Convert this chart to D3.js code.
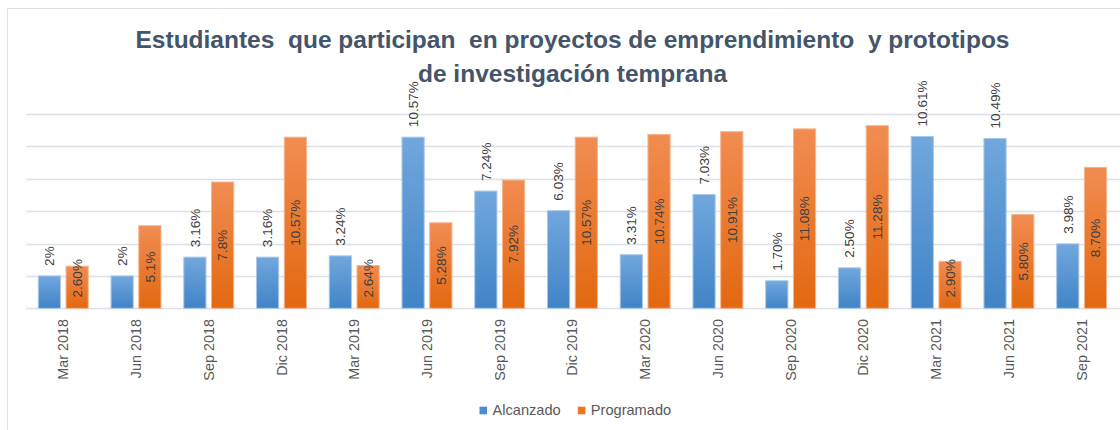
<!DOCTYPE html>
<html>
<head>
<meta charset="utf-8">
<script src="https://cdn.jsdelivr.net/npm/d3@7"></script>
<style>
  body { margin: 0; background: #fff; }
  svg { display: block; font-family: "Liberation Sans", Arial, sans-serif; }
</style>
</head>
<body>
<div class="chart"></div>
<script>
//chart data
const categories = ['Mar 2018', 'Jun 2018', 'Sep 2018', 'Dic 2018', 'Mar 2019', 'Jun 2019', 'Sep 2019', 'Dic 2019',
  'Mar 2020', 'Jun 2020', 'Sep 2020', 'Dic 2020', 'Mar 2021', 'Jun 2021', 'Sep 2021'];
const series = ['Alcanzado', 'Programado'];
const alcanzado = [2, 2, 3.16, 3.16, 3.24, 10.57, 7.24, 6.03, 3.31, 7.03, 1.70, 2.50, 10.61, 10.49, 3.98];
const programado = [2.60, 5.1, 7.8, 10.57, 2.64, 5.28, 7.92, 10.57, 10.74, 10.91, 11.08, 11.28, 2.90, 5.80, 8.70];
//the labels are typed the way the source shows them (some have 1 decimal, some 2)
const alcanzadoLabels = ['2%', '2%', '3.16%', '3.16%', '3.24%', '10.57%', '7.24%', '6.03%', '3.31%', '7.03%',
  '1.70%', '2.50%', '10.61%', '10.49%', '3.98%'];
const programadoLabels = ['2.60%', '5.1%', '7.8%', '10.57%', '2.64%', '5.28%', '7.92%', '10.57%', '10.74%',
  '10.91%', '11.08%', '11.28%', '2.90%', '5.80%', '8.70%'];
const yTicks = [0, 2, 4, 6, 8, 10, 12];
const titleLines = ['Estudiantes  que participan  en proyectos de emprendimiento  y prototipos',
  'de investigación temprana'];

const width = 1120;
const height = 430;
const plot = {left: 26.9, right: 1118, top: 114, bottom: 308.3};

const svg = d3.select('.chart').append('svg')
  .attr('width', width)
  .attr('height', height);

//gradients for the bars (excel style fill)
const defs = svg.append('defs');
const grads = [
  {id: 'gradBlue', top: '#71a7dd', bottom: '#4084c7'},
  {id: 'gradOrange', top: '#f18c52', bottom: '#e3680f'}
];
grads.forEach(g => {
  const lg = defs.append('linearGradient')
    .attr('id', g.id)
    .attr('x1', 0).attr('y1', 0).attr('x2', 0).attr('y2', 1);
  lg.append('stop').attr('offset', '0%').attr('stop-color', g.top);
  lg.append('stop').attr('offset', '100%').attr('stop-color', g.bottom);
});

//chart area border
svg.append('rect')
  .attr('x', 7.5)
  .attr('y', 8.5)
  .attr('width', 1300)
  .attr('height', 600)
  .attr('fill', 'none')
  .attr('stroke', '#dfe2e8');

const x = d3.scaleBand()
  .domain(categories)
  .range([plot.left, plot.right])
  .padding(0);

//inner scale for the two bars in each group
const xInner = d3.scaleBand()
  .domain(series)
  .range([11.4, x.bandwidth() - 11.4])
  .paddingInner(0.2);

const y = d3.scaleLinear()
  .domain([0, 12])
  .range([plot.bottom, plot.top]);

//horizontal gridlines
svg.append('g')
  .selectAll('line')
  .data(yTicks)
  .join('line')
  .attr('x1', plot.left - 1)
  .attr('x2', width)
  .attr('y1', d => Math.round(y(d)) + 0.5)
  .attr('y2', d => Math.round(y(d)) + 0.5)
  .attr('stroke', '#dcdfe5')
  .attr('stroke-width', 1.3);

//title
svg.append('text')
  .attr('x', 572.5)
  .attr('y', 48)
  .attr('text-anchor', 'middle')
  .attr('fill', '#44546a')
  .style('font-weight', 'bold')
  .style('font-size', '24.5px')
  .style('white-space', 'pre')
  .selectAll('tspan')
  .data(titleLines)
  .join('tspan')
  .attr('x', 572.5)
  .attr('dy', (d, i) => i === 0 ? 0 : 33.5)
  .text(d => d);

//one row per category so both series are drawn from the same scales
const rows = categories.map((c, i) => ({
  cat: c,
  bars: [
    {key: 'Alcanzado', value: alcanzado[i], label: alcanzadoLabels[i], fill: 'url(#gradBlue)', stroke: '#a9c8ea'},
    {key: 'Programado', value: programado[i], label: programadoLabels[i], fill: 'url(#gradOrange)', stroke: '#f6b58c'}
  ]
}));

const groups = svg.append('g')
  .selectAll('g')
  .data(rows)
  .join('g')
  .attr('transform', d => `translate(${x(d.cat)}, 0)`);

groups.selectAll('rect')
  .data(d => d.bars)
  .join('rect')
  .attr('x', d => xInner(d.key))
  .attr('y', d => y(d.value))
  .attr('width', xInner.bandwidth())
  .attr('height', d => y(0) - y(d.value))
  .attr('fill', d => d.fill)
  .attr('stroke', d => d.stroke)
  .attr('stroke-width', 1);

//data labels: alcanzado sits above the bar, programado is centred in the bar
groups.selectAll('.dataLabel')
  .data(d => d.bars)
  .join('text')
  .attr('class', 'dataLabel')
  .attr('transform', d => {
    const cx = xInner(d.key) + xInner.bandwidth() / 2;
    let cy;
    if (d.key === 'Alcanzado') {
      cy = y(d.value) - 10;
    } else {
      cy = Math.min((y(d.value) + y(0)) / 2, y(0) - 30); //short bars push the label up
    }
    return `translate(${cx}, ${cy}) rotate(-90)`;
  })
  .attr('dy', '0.35em')
  .attr('text-anchor', d => d.key === 'Alcanzado' ? 'start' : 'middle')
  .attr('fill', '#404040')
  .style('font-size', '13.6px')
  .text(d => d.label);

//category labels under the axis, rotated like in excel
svg.append('g')
  .selectAll('text')
  .data(categories)
  .join('text')
  .attr('transform', d => `translate(${x(d) + x.bandwidth() / 2}, 319) rotate(-90)`)
  .attr('dy', '0.35em')
  .attr('text-anchor', 'end')
  .attr('fill', '#595959')
  .style('font-size', '14.4px')
  .text(d => d);

//legend
const legendX = [479.5, 577.8];
const legendColors = ['#4a8ccd', '#ec7626'];
const legend = svg.append('g')
  .selectAll('g')
  .data(series)
  .join('g')
  .attr('transform', (d, i) => `translate(${legendX[i]}, 406.7)`);

legend.append('rect')
  .attr('width', 7.6)
  .attr('height', 7.6)
  .attr('fill', (d, i) => legendColors[i]);

legend.append('text')
  .attr('x', 13)
  .attr('y', 7.8)
  .attr('fill', '#595959')
  .style('font-size', '14.6px')
  .text(d => d);
</script>
</body>
</html>
